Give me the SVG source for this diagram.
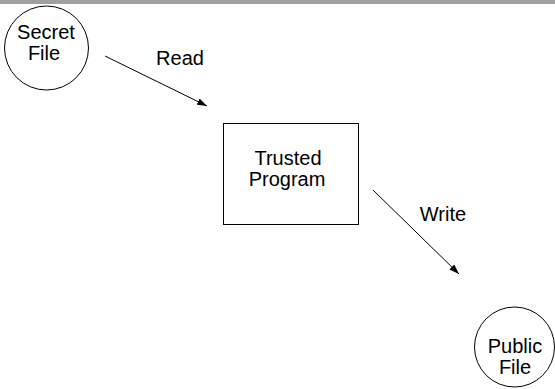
<svg xmlns="http://www.w3.org/2000/svg" width="555" height="389" viewBox="0 0 555 389">
<defs>
<style>
.shape{fill:#ffffff;stroke:#000000;stroke-width:1}
.lbl{font-family:"Liberation Sans",Arial,sans-serif;font-size:20px;fill:#000000;text-anchor:middle}
.conn{stroke:#000000;stroke-width:1;fill:none;marker-end:url(#arr)}
</style>
<marker id="arr" viewBox="0 0 10 7" refX="10" refY="3.5" markerWidth="10" markerHeight="7" markerUnits="userSpaceOnUse" orient="auto">
<path d="M0,0 L10,3.5 L0,7 Z" fill="#000000"/>
</marker>
</defs>
<rect x="0" y="0" width="555" height="389" fill="#ffffff"/>
<rect x="0" y="0" width="555" height="4" fill="#a0a0a0"/>
<g id="connectors">
<line class="conn" x1="105" y1="56" x2="207" y2="106"/>
<line class="conn" x1="373" y1="190" x2="459" y2="274"/>
<text class="lbl" x="180" y="65">Read</text>
<text class="lbl" x="443" y="221">Write</text>
</g>
<g id="secret-file">
<ellipse class="shape" cx="46.5" cy="48" rx="42" ry="42"/>
<text class="lbl" x="46" y="39">Secret</text>
<text class="lbl" x="44" y="60">File</text>
</g>
<g id="trusted-program">
<rect class="shape" x="223.5" y="123.5" width="135" height="101"/>
<text class="lbl" x="288" y="165">Trusted</text>
<text class="lbl" x="287" y="186">Program</text>
</g>
<g id="public-file">
<ellipse class="shape" cx="514.5" cy="347" rx="40" ry="40"/>
<text class="lbl" x="515" y="353">Public</text>
<text class="lbl" x="515" y="374">File</text>
</g>
</svg>
